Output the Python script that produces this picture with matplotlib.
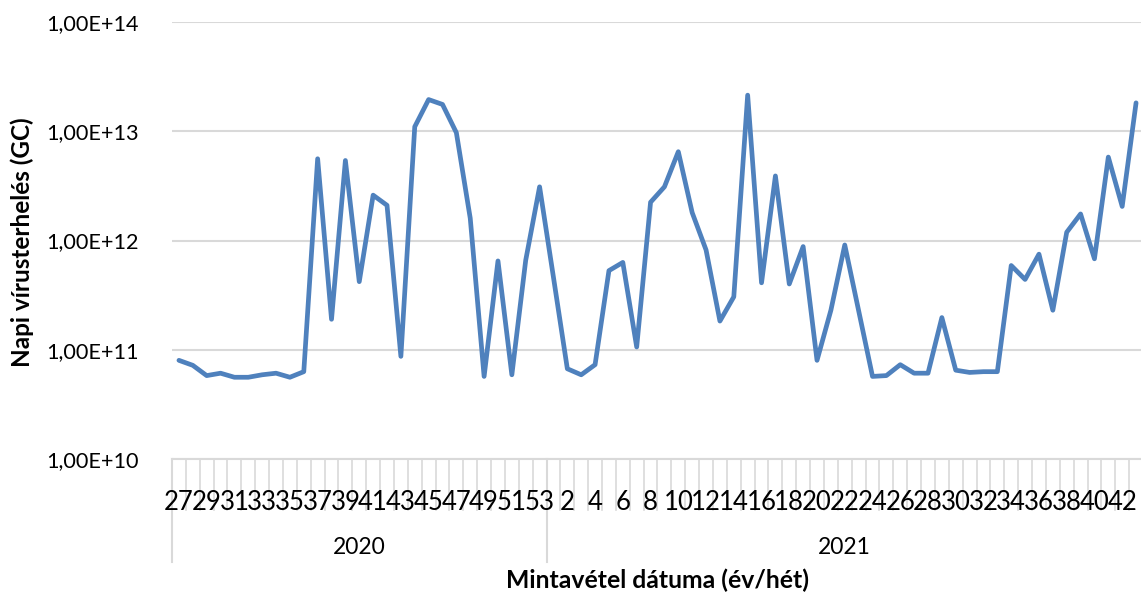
import numpy as np
import matplotlib.pyplot as plt
import matplotlib.transforms as mtransforms

# weekly sampling, 2020 wk27 .. 2021 wk43
weeks_2020 = list(range(27, 54))
weeks_2021 = list(range(1, 44))
years = ['2020', '2021']

load_2020 = [8.0e10, 7.2e10, 5.8e10, 6.1e10, 5.6e10, 5.6e10, 5.9e10, 6.1e10, 5.6e10,
             6.3e10, 5.6e12, 1.9e11, 5.4e12, 4.2e11, 2.6e12, 2.1e12, 8.7e10, 1.1e13,
             1.95e13, 1.76e13, 9.7e12, 1.6e12, 5.7e10, 6.5e11, 5.9e10, 6.6e11, 3.1e12]
load_2021 = [4.6e11, 6.7e10, 5.9e10, 7.3e10, 5.3e11, 6.3e11, 1.06e11, 2.24e12, 3.1e12,
             6.5e12, 1.8e12, 8.2e11, 1.83e11, 3.05e11, 2.14e13, 4.1e11, 3.9e12, 4.0e11,
             8.8e11, 8.0e10, 2.3e11, 9.1e11, 2.28e11, 5.7e10, 5.8e10, 7.3e10, 6.1e10,
             6.1e10, 1.97e11, 6.5e10, 6.2e10, 6.3e10, 6.3e10, 5.9e11, 4.4e11, 7.5e11,
             2.3e11, 1.19e12, 1.75e12, 6.8e11, 5.8e12, 2.05e12, 1.82e13]

y_ticks = [1e10, 1e11, 1e12, 1e13, 1e14]
y_labels = ['1,00E+10', '1,00E+11', '1,00E+12', '1,00E+13', '1,00E+14']

plt.rcParams['font.family'] = ['Lato', 'DejaVu Sans']
GRID = '#d9d9d9'

week_labels = weeks_2020 + weeks_2021
values = load_2020 + load_2021
n = len(values)
x = np.arange(n)

W, H = 1141, 596
fig = plt.figure(figsize=(W / 100, H / 100), dpi=100)
left, right, top, bottom = 172, 1143, 22, 459
ax = fig.add_axes([left / W, (H - bottom) / H, (right - left) / W, (bottom - top) / H])

ax.plot(x, values, color='#4f81bd', lw=3.4, solid_joinstyle='round',
        solid_capstyle='round', zorder=3, clip_on=False)

ax.set_yscale('log')
ax.set_ylim(1e10, 1e14)
ax.set_xlim(-0.5, n - 0.5)
ax.set_yticks(y_ticks)
ax.set_yticklabels(y_labels, fontsize=15.6)
ax.yaxis.set_minor_locator(plt.NullLocator())
ax.grid(axis='y', color=GRID, lw=1.5)
ax.set_axisbelow(True)
ax.tick_params(axis='y', length=0, pad=24)

# category labels: every other week
ax.set_xticks(x[::2])
ax.set_xticklabels([str(w) for w in week_labels[::2]], fontsize=18.5)
ax.tick_params(axis='x', length=0, pad=22)

for s in ['left', 'right', 'top']:
    ax.spines[s].set_visible(False)
ax.spines['bottom'].set_color(GRID)
ax.spines['bottom'].set_linewidth(1.5)

# category separators below the axis
trans = mtransforms.blended_transform_factory(ax.transData, ax.transAxes)
h = bottom - top
for b in np.arange(n + 1) - 0.5:
    ax.plot([b, b], [0, -51 / h], transform=trans, color=GRID, lw=1.2,
            clip_on=False, zorder=0)

# year groups
n20 = len(weeks_2020)
for b in [-0.5, n20 - 0.5, n - 0.5]:
    ax.plot([b, b], [0, -103 / h], transform=trans, color=GRID, lw=1.5,
            clip_on=False, zorder=0)
ax.text((n20 - 1) / 2, -(548 - bottom) / h, years[0], transform=trans,
        ha='center', va='center', fontsize=16.5)
ax.text(n20 + (n - n20 - 1) / 2, -(548 - bottom) / h, years[1], transform=trans,
        ha='center', va='center', fontsize=16.5)

fig.text(657 / W, 1 - 580 / H, 'Mintavétel dátuma (év/hét)', ha='center', va='center',
         fontsize=17.8, fontweight='bold')
fig.text(22 / W, 1 - 242 / H, 'Napi vírusterhelés (GC)', ha='center', va='center',
         rotation=90, fontsize=17.5, fontweight='bold')

fig.savefig('out.png', dpi=100)
